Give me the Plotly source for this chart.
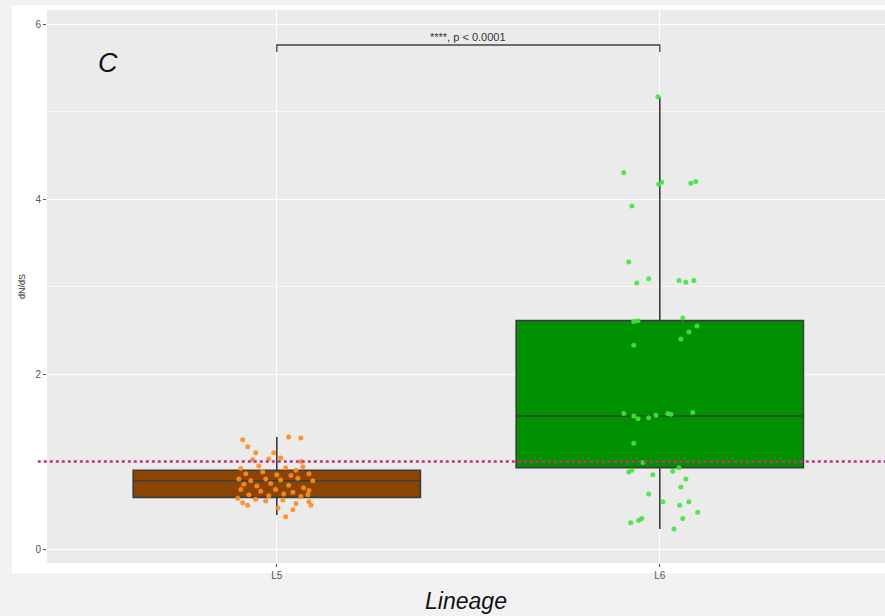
import plotly.graph_objects as go

# Lineage categories and box-plot summaries of dN/dS
lineages = ["L5", "L6"]
q1 = [0.59, 0.93]
median = [0.78, 1.52]
q3 = [0.90, 2.61]
lower_whisker = [0.39, 0.23]
upper_whisker = [1.28, 5.17]

# Per-sample dN/dS values with their horizontal jitter (category units)
l5_values = [1.25, 1.17, 1.28, 1.27, 1.10, 1.10, 1.02, 1.03, 1.04, 1.00, 0.94, 0.92,
             0.95, 0.93, 0.90, 0.86, 0.88, 0.85, 0.84, 0.86, 0.80, 0.78, 0.80, 0.79,
             0.81, 0.78, 0.74, 0.72, 0.75, 0.73, 0.70, 0.68, 0.66, 0.68, 0.65, 0.67,
             0.62, 0.61, 0.63, 0.60, 0.58, 0.57, 0.56, 0.62, 0.53, 0.50, 0.47, 0.37,
             0.45, 0.54, 0.50, 0.52, 0.55]
l5_jitter = [-0.089, -0.076, 0.031, 0.063, -0.055, -0.008, -0.063, -0.021, 0.010, 0.063, 0.068, -0.094,
             -0.047, 0.023, 0.050, -0.081, -0.037, 0.000, 0.037, 0.084, -0.099, -0.068, -0.029, 0.010,
             0.055, 0.094, -0.086, -0.052, -0.016, 0.031, 0.070, -0.094, -0.042, -0.003, 0.042, 0.084,
             -0.073, -0.021, 0.018, 0.063, -0.102, -0.055, 0.016, 0.081, -0.089, -0.076, 0.003, 0.023,
             0.042, 0.084, 0.089, 0.050, -0.029]

l6_values = [5.17, 4.30, 4.17, 4.19, 4.18, 4.20, 3.92, 3.28, 3.04, 3.09, 3.07, 3.05,
             3.07, 2.60, 2.61, 2.64, 2.55, 2.48, 2.40, 2.33, 1.55, 1.52, 1.49, 1.50,
             1.53, 1.55, 1.54, 1.56, 1.21, 0.99, 0.88, 0.90, 0.85, 0.89, 0.93, 0.80,
             0.71, 0.63, 0.54, 0.50, 0.54, 0.42, 0.33, 0.35, 0.35, 0.23, 0.30]
l6_jitter = [-0.005, -0.094, -0.003, 0.005, 0.081, 0.094, -0.073, -0.081, -0.060, -0.029, 0.050, 0.068,
             0.089, -0.068, -0.057, 0.060, 0.097, 0.076, 0.055, -0.068, -0.094, -0.068, -0.057, -0.029,
             -0.010, 0.021, 0.029, 0.086, -0.068, -0.044, -0.081, -0.073, -0.018, 0.034, 0.050, 0.068,
             0.055, -0.029, 0.008, 0.052, 0.076, 0.099, -0.055, -0.047, 0.060, 0.037, -0.076]

reference_ratio = 1.0
bracket_y = 5.76
p_label = "****, p < 0.0001"
panel_label = "C"

box_fills = ["#8b4500", "#009100"]
point_colors = ["#ff8c1a", "#3ee63e"]
positions = [1, 2]

fig = go.Figure()

for i, name in enumerate(lineages):
    fig.add_trace(go.Box(
        x=[positions[i]], q1=[q1[i]], median=[median[i]], q3=[q3[i]],
        lowerfence=[lower_whisker[i]], upperfence=[upper_whisker[i]],
        width=0.75, fillcolor=box_fills[i],
        line=dict(color="#3c3c3c", width=1.6),
        whiskerwidth=0, boxpoints=False, showlegend=False, hoverinfo="skip",
    ))

for i, (vals, jit) in enumerate([(l5_values, l5_jitter), (l6_values, l6_jitter)]):
    fig.add_trace(go.Scatter(
        x=[positions[i] + j for j in jit], y=vals, mode="markers",
        marker=dict(color=point_colors[i], size=5, opacity=0.9, line=dict(width=0)),
        showlegend=False, hoverinfo="skip",
    ))

# Neutral-selection reference line at dN/dS = 1
fig.add_shape(type="line", xref="paper", yref="y", x0=-0.011, x1=1,
              y0=reference_ratio, y1=reference_ratio,
              line=dict(color="#c8307f", width=2.6, dash="dot"), layer="above")

# Significance bracket between the two lineages
bracket_x = [positions[0], positions[0], positions[1], positions[1]]
bracket_yv = [bracket_y - 0.08, bracket_y, bracket_y, bracket_y - 0.08]
fig.add_trace(go.Scatter(x=bracket_x, y=bracket_yv, mode="lines",
                         line=dict(color="#444444", width=1.3),
                         showlegend=False, hoverinfo="skip"))
fig.add_annotation(x=(positions[0] + positions[1]) / 2, y=bracket_y, text=p_label,
                   showarrow=False, yanchor="bottom", yshift=0,
                   font=dict(size=11, color="#333333"))

fig.add_annotation(x=0.56, y=5.55, text="<i>%s</i>" % panel_label, showarrow=False,
                   font=dict(size=27, color="#111111"))

# White plot panel behind the axes, then the grey panel background on top of it
fig.add_shape(type="rect", xref="paper", yref="paper",
              x0=-35 / 838, x1=1.01, y0=-10 / 553, y1=1 + 5 / 553,
              fillcolor="white", line=dict(width=0), layer="below")
fig.add_shape(type="rect", xref="paper", yref="paper",
              x0=0, x1=1.01, y0=0, y1=1,
              fillcolor="#ebebeb", line=dict(width=0), layer="below")

fig.update_layout(
    width=885, height=616,
    margin=dict(l=47, r=0, t=10, b=53),
    paper_bgcolor="#f2f2f2", plot_bgcolor="#ebebeb",
    font=dict(family="Liberation Sans, Arial, sans-serif", color="#4d4d4d"),
    xaxis=dict(
        range=[0.4, 2.588], tickvals=positions, ticktext=lineages,
        showgrid=True, gridcolor="white", gridwidth=1.2, zeroline=False,
        ticks="outside", ticklen=3, tickcolor="#555555", tickwidth=1,
        tickfont=dict(size=10, color="#555555"),
        title=dict(text="<i>Lineage</i>", font=dict(size=23, color="#111111"), standoff=12),
    ),
    yaxis=dict(
        range=[-0.16, 6.16], tickvals=[0, 2, 4, 6],
        showgrid=True, gridcolor="white", gridwidth=1.2, zeroline=False,
        minor=dict(dtick=1, tick0=0, showgrid=True, gridcolor="#f6f6f6", gridwidth=0.6),
        ticks="outside", ticklen=3, tickcolor="#555555", tickwidth=1,
        tickfont=dict(size=10, color="#555555"),
        title=dict(text="dN/dS", font=dict(size=9, color="#333333"), standoff=8),
    ),
)

fig.write_html("out.html")
